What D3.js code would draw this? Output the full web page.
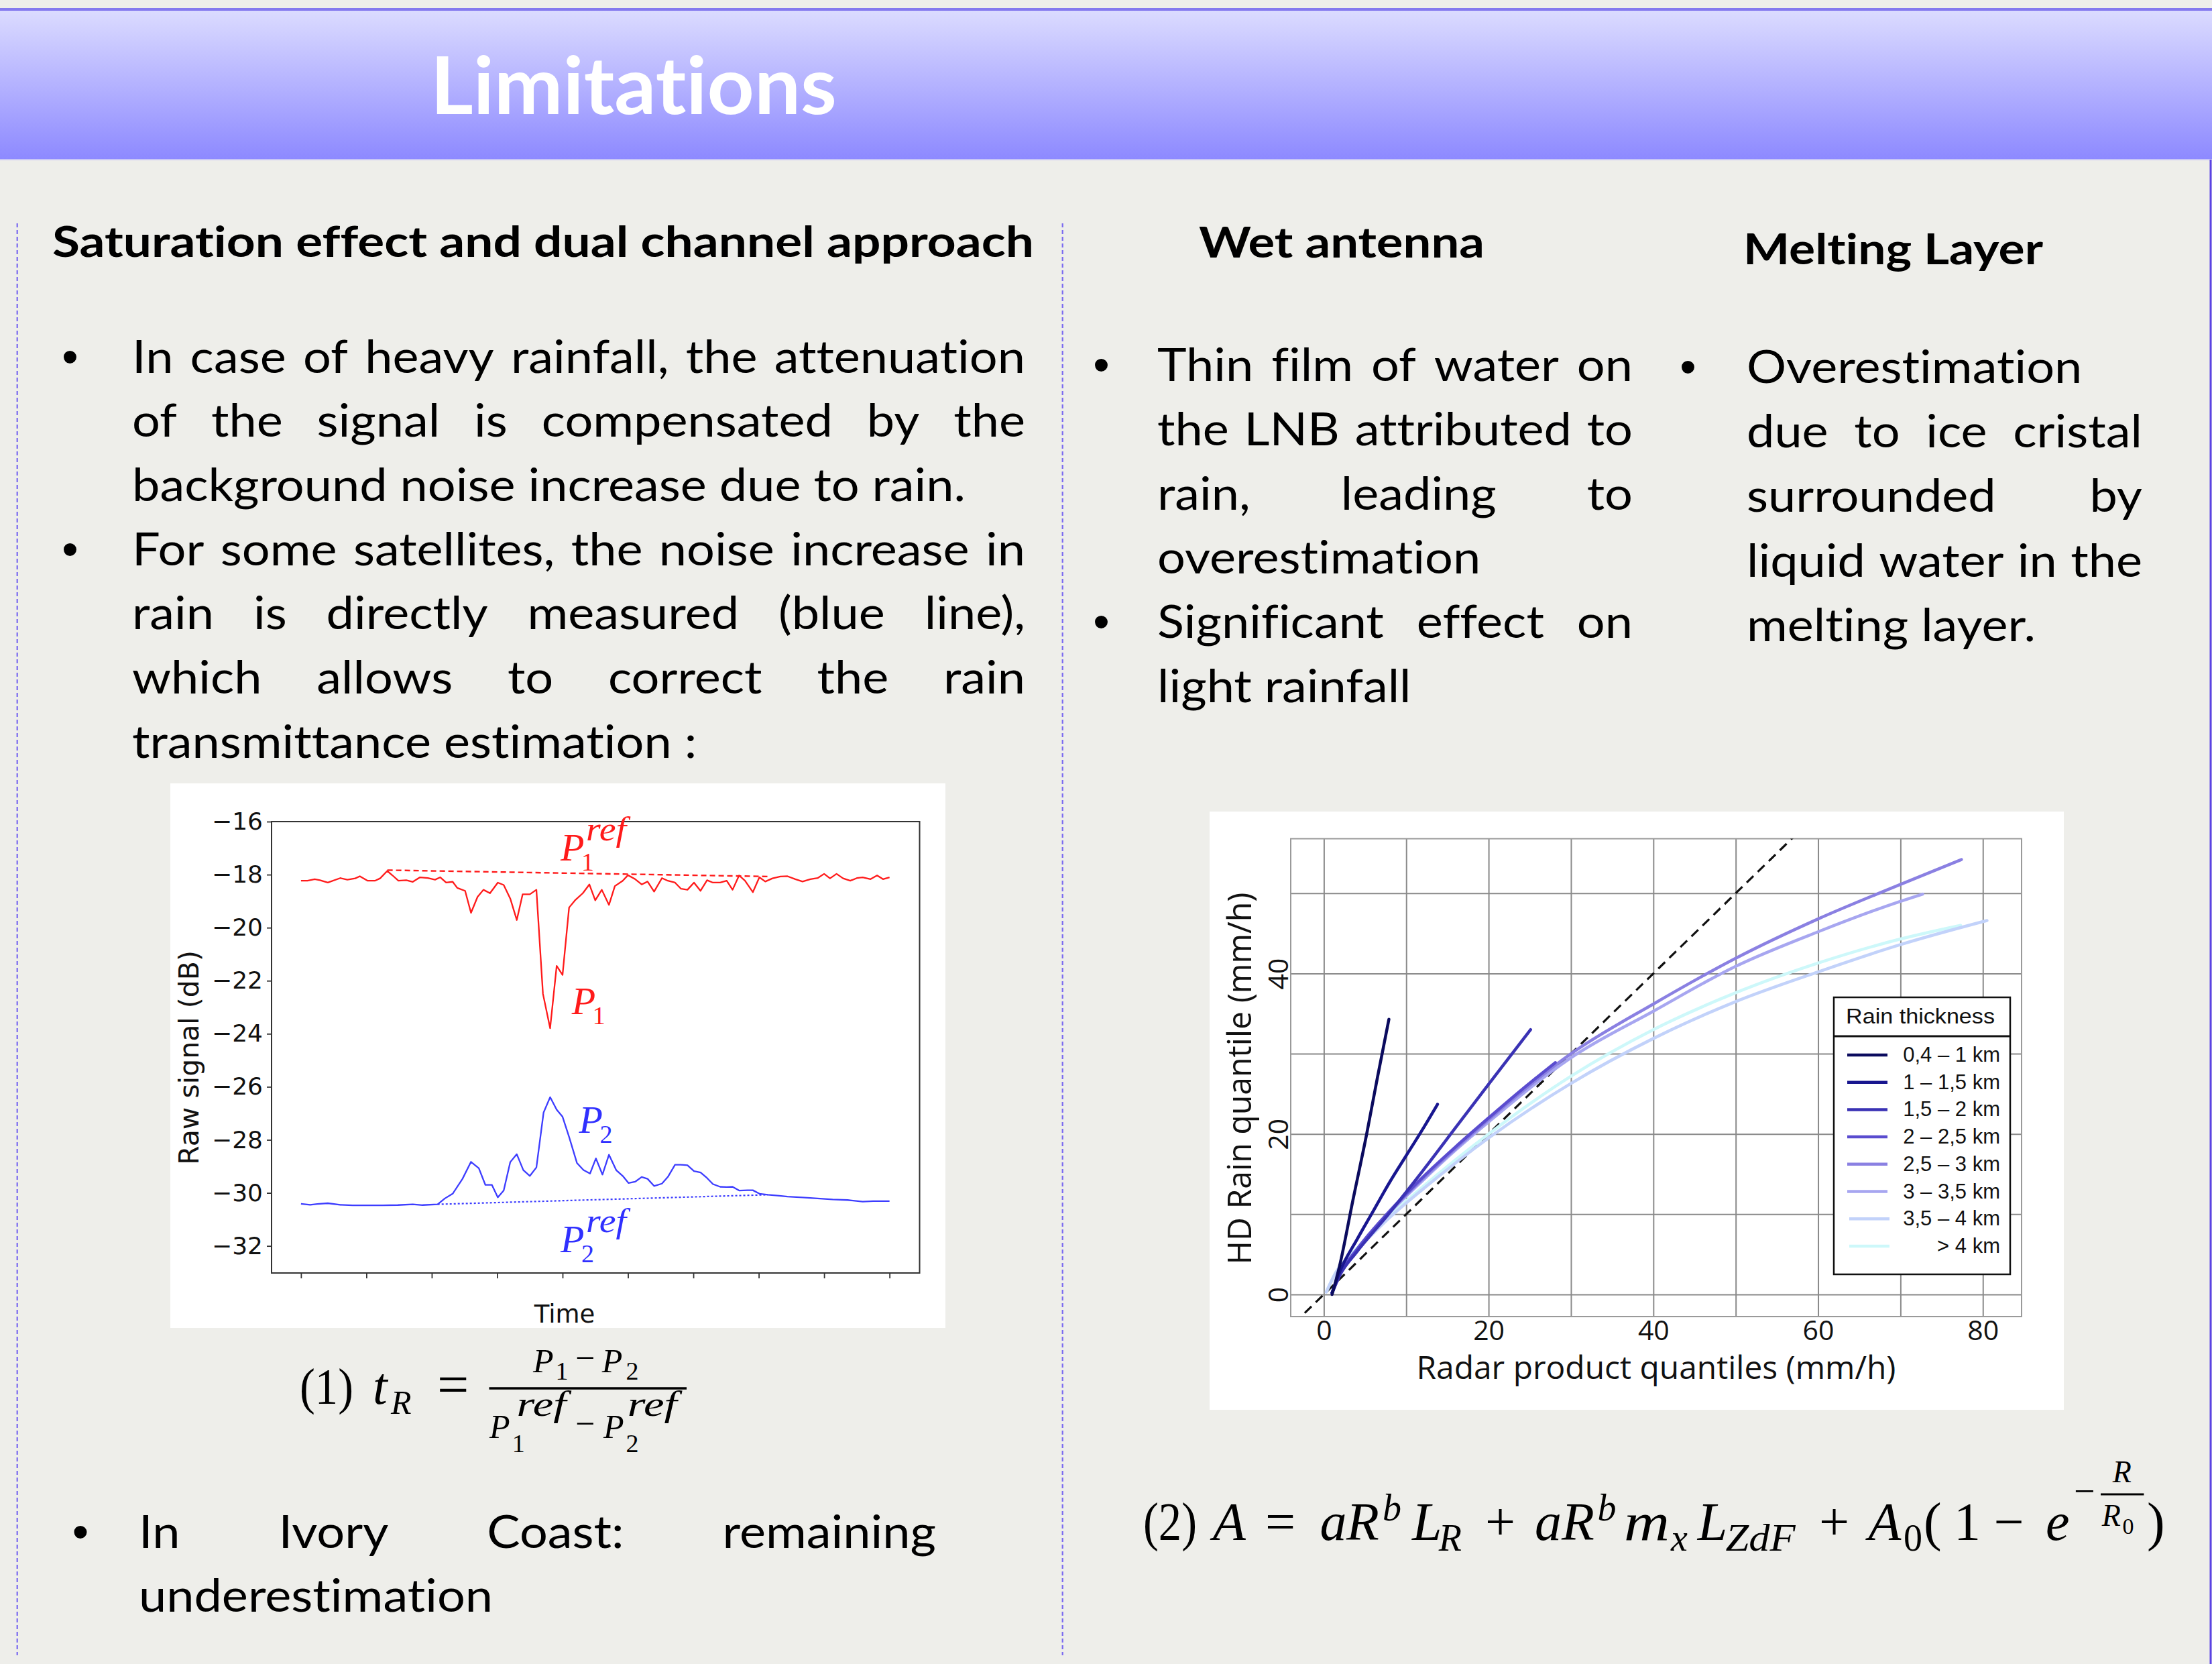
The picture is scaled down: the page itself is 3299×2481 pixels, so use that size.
<!DOCTYPE html>
<html>
<head>
<meta charset="utf-8">
<script src="https://d3js.org/d3.v7.min.js"></script>
<style>
  html, body { margin: 0; padding: 0; background: #eeeeea; }
  svg { display: block; }
  text { font-variant-ligatures: none; }
</style>
</head>
<body>
<svg id="slide" width="3299" height="2481"></svg>
<script>
// ---------- left chart : raw signal of the two channels ----------
const timeP1 = [0,0.1,0.21,0.29,0.41,0.6,0.71,0.83,0.9,1.02,1.13,1.21,1.32,1.4,1.49,1.61,1.71,1.82,1.94,2.05,2.13,2.22,2.32,2.39,2.51,2.6,2.7,2.79,2.89,3.01,3.1,3.2,3.3,3.39,3.5,3.6,3.7,3.81,3.91,4,4.1,4.19,4.31,4.41,4.5,4.6,4.71,4.8,4.92,5,5.11,5.21,5.3,5.4,5.52,5.61,5.72,5.81,5.91,6.01,6.11,6.21,6.3,6.41,6.51,6.6,6.7,6.79,6.91,7.01,7.1,7.21,7.33,7.44,7.56,7.67,7.79,7.9,8,8.09,8.19,8.29,8.4,8.5,8.59,8.71,8.81,8.9,9];
const p1 = [-18.23,-18.23,-18.17,-18.21,-18.30,-18.13,-18.19,-18.14,-18.06,-18.23,-18.23,-18.14,-17.86,-18.03,-18.23,-18.21,-18.27,-18.10,-18.13,-18.19,-18.10,-18.30,-18.27,-18.50,-18.61,-19.44,-18.84,-18.57,-18.70,-18.30,-18.39,-18.90,-19.71,-18.74,-18.74,-18.57,-22.49,-23.79,-21.44,-21.78,-19.24,-18.97,-18.70,-18.37,-18.97,-18.57,-19.14,-18.43,-18.23,-18.02,-18.17,-18.37,-18.26,-18.64,-18.13,-18.23,-18.30,-18.53,-18.57,-18.30,-18.61,-18.21,-18.30,-18.30,-18.23,-18.57,-18.03,-18.23,-18.66,-18.10,-18.26,-18.14,-18.07,-18.06,-18.17,-18.26,-18.17,-18.13,-17.97,-18.14,-17.97,-18.14,-18.23,-18.13,-18.10,-18.17,-18.03,-18.17,-18.10];
const timeP2 = [0,0.14,0.25,0.41,0.6,0.79,1.02,1.25,1.48,1.71,1.86,2.09,2.2,2.32,2.47,2.6,2.72,2.82,2.92,3.01,3.1,3.2,3.3,3.4,3.5,3.6,3.71,3.81,3.91,4,4.1,4.22,4.32,4.42,4.51,4.61,4.71,4.82,4.92,5.01,5.11,5.21,5.3,5.4,5.52,5.61,5.72,5.81,5.91,6.01,6.11,6.21,6.3,6.41,6.51,6.6,6.7,6.83,6.91,7.01,7.14,7.29,7.44,7.67,7.9,8.13,8.36,8.59,8.75,9];
const p2 = [-30.41,-30.45,-30.42,-30.39,-30.45,-30.47,-30.47,-30.47,-30.46,-30.43,-30.46,-30.43,-30.21,-30.03,-29.47,-28.83,-29.07,-29.70,-29.70,-30.17,-29.91,-28.84,-28.54,-29.14,-29.36,-29.04,-26.97,-26.39,-26.86,-27.13,-27.89,-28.87,-29.14,-29.27,-28.70,-29.31,-28.56,-29.14,-29.36,-29.63,-29.58,-29.40,-29.47,-29.74,-29.65,-29.40,-28.94,-28.94,-28.96,-29.18,-29.23,-29.44,-29.67,-29.77,-29.78,-29.77,-29.91,-29.90,-29.90,-30.03,-30.07,-30.10,-30.14,-30.17,-30.21,-30.25,-30.27,-30.33,-30.31,-30.31];
const p1RefTime = [1.32, 7.14], p1Ref = [-17.83, -18.07];
const p2RefTime = [2.09, 7.14], p2Ref = [-30.43, -30.07];
const signalTicks = [-32, -30, -28, -26, -24, -22, -20, -18, -16];
const timeTicks = [0, 1, 2, 3, 4, 5, 6, 7, 8, 9];

// ---------- right chart : HD rain quantiles vs radar quantiles ----------
const thickness = ["0,4 – 1 km", "1 – 1,5 km", "1,5 – 2 km", "2 – 2,5 km", "2,5 – 3 km", "3 – 3,5 km", "3,5 – 4 km", "> 4 km"];
const radarQ = [
  [1.0, 1.9, 3.5, 5.2, 6.5, 7.9],
  [1.0, 2, 4, 6, 8, 10, 12, 13.8],
  [1.0, 2, 4, 8, 12, 16, 20, 25.1],
  [1.0, 2, 4, 8, 12, 16, 20, 24, 28.1],
  [1.0, 2, 4, 8, 12, 16, 20, 30, 40, 50, 60, 70, 77.4],
  [1.0, 2, 4, 8, 12, 16, 20, 30, 40, 50, 60, 70, 72.7],
  [0.3, 1.5, 3, 5, 8, 12, 20, 30, 40, 50, 60, 70, 80.5],
  [0.3, 1.5, 3, 5, 8, 12, 20, 30, 40, 50, 60, 70, 77.3]
];
const hdQ = [
  [0.0, 3.5, 11.6, 20, 27, 34.3],
  [0.2, 3.0, 6.8, 10.4, 14.0, 17.3, 20.6, 23.7],
  [0.2, 2.5, 5.3, 10.2, 15.4, 20.8, 26.2, 33.0],
  [0.2, 2.6, 5.6, 10.4, 14.6, 18.4, 22.0, 25.5, 28.9],
  [0.2, 2.6, 5.5, 10.3, 14.4, 18.2, 21.8, 30.0, 36.2, 41.9, 46.8, 51.1, 54.2],
  [0.2, 2.6, 5.5, 10.2, 14.2, 18.0, 21.5, 29.5, 35.3, 40.9, 45.2, 49.0, 49.9],
  [0.3, 2.8, 4.6, 6.6, 9.6, 13.1, 19.5, 26.3, 31.9, 36.5, 40.2, 43.6, 46.6],
  [0.3, 2.8, 4.7, 6.7, 9.8, 13.4, 20.0, 27.2, 33.0, 37.6, 41.3, 44.3, 46.0]
];
const oneToOne = [-5, 60];
const radarTicks = [0, 10, 20, 30, 40, 50, 60, 70, 80];
const hdTicks = [0, 10, 20, 30, 40, 50];

const bandColors = ["#0b0b5e", "#18168f", "#3a32b4", "#5a4ccf", "#8a80e2", "#a7a6f0", "#c2d2fa", "#cdf8fa"];

// ---------- slide text ----------
const leftLines = [
  {t: "In case of heavy rainfall, the attenuation", j: true, b: true},
  {t: "of the signal is compensated by the", j: true},
  {t: "background noise increase due to rain.", j: false},
  {t: "For some satellites, the noise increase in", j: true, b: true},
  {t: "rain is directly measured (blue line),", j: true},
  {t: "which allows to correct the rain", j: true},
  {t: "transmittance estimation :", j: false}
];
const midLines = [
  {t: "Thin film of water on", j: true, b: true},
  {t: "the LNB attributed to", j: true},
  {t: "rain, leading to", j: true},
  {t: "overestimation", j: false},
  {t: "Significant effect on", j: true, b: true},
  {t: "light rainfall", j: false}
];
const rightLines = [
  {t: "Overestimation", j: false, b: true},
  {t: "due to ice cristal", j: true},
  {t: "surrounded by", j: true},
  {t: "liquid water in the", j: true},
  {t: "melting layer.", j: false}
];
const bottomLines = [
  {t: "In Ivory Coast: remaining", j: true, b: true},
  {t: "underestimation", j: false}
];

const W = 3299, H = 2481;
const bodyFont = "Lato, 'Open Sans', sans-serif";
const bodySize = 68;
const mathFont = "'Liberation Serif', 'DejaVu Serif', serif";

const svg = d3.select("#slide");
const defs = svg.append("defs");
const grad = defs.append("linearGradient").attr("id", "hdr")
  .attr("x1", 0).attr("y1", 0).attr("x2", 0).attr("y2", 1);
grad.append("stop").attr("offset", "0%").attr("stop-color", "#dcdcff");
grad.append("stop").attr("offset", "100%").attr("stop-color", "#8d89ff");

svg.append("rect").attr("width", W).attr("height", H).attr("fill", "#eeeeea");

// header band
svg.append("rect").attr("x", 0).attr("y", 13).attr("width", W).attr("height", 225).attr("fill", "url(#hdr)");
svg.append("line").attr("x1", 0).attr("x2", W).attr("y1", 14).attr("y2", 14)
  .attr("stroke", "#8479ee").attr("stroke-width", 4);
svg.append("line").attr("x1", 0).attr("x2", W).attr("y1", 238).attr("y2", 238)
  .attr("stroke", "#c9c7f6").attr("stroke-width", 2);
svg.append("text").attr("x", 642).attr("y", 170)
  .attr("font-family", bodyFont).attr("font-weight", 700).attr("font-size", 118)
  .attr("fill", "#ffffff").attr("textLength", 606).attr("lengthAdjust", "spacingAndGlyphs")
  .text("Limitations");

// right border and column dividers
svg.append("line").attr("x1", 3297).attr("x2", 3297).attr("y1", 238).attr("y2", H)
  .attr("stroke", "#5b42e4").attr("stroke-width", 3);
[25.7, 1584.7].forEach(x => {
  svg.append("line").attr("x1", x).attr("x2", x).attr("y1", 333).attr("y2", 2468)
    .attr("stroke", "#7a6af0").attr("stroke-width", 2.2).attr("stroke-dasharray", "6,4");
});

// headings
function heading(x, y, w, s) {
  svg.append("text").attr("x", x).attr("y", y)
    .attr("font-family", bodyFont).attr("font-weight", 700).attr("font-size", 64)
    .attr("fill", "#000").attr("textLength", w).attr("lengthAdjust", "spacingAndGlyphs").text(s);
}
heading(78, 383, 1464, "Saturation effect and dual channel approach");
heading(1788, 384, 426, "Wet antenna");
heading(2600, 394, 447, "Melting Layer");

// horizontal squeeze so that Lato reaches the widths of the original lines
const refs = [["background noise increase due to rain.", 1246.5], ["transmittance estimation :", 849],
  ["overestimation", 484], ["light rainfall", 375], ["Overestimation", 494],
  ["melting layer.", 428], ["underestimation", 530]];
let natural = 0, target = 0;
refs.forEach(r => {
  const p = svg.append("text").attr("font-family", bodyFont).attr("font-size", bodySize).text(r[0]);
  natural += p.node().getComputedTextLength();
  target += r[1];
  p.remove();
});
const squeeze = target / natural;

function block(lines, x0, x1, y0, lh, bulletX) {
  lines.forEach((ln, i) => {
    const y = y0 + i * lh;
    if (ln.b) {
      svg.append("text").attr("x", bulletX).attr("y", y).attr("text-anchor", "middle")
        .attr("font-family", "'Liberation Sans', Arial, sans-serif").attr("font-size", 70)
        .attr("fill", "#000").text("•");
    }
    const g = svg.append("g").attr("transform", `translate(${x0},${y}) scale(${squeeze},1)`);
    const t = g.append("text").attr("font-family", bodyFont).attr("font-size", bodySize).attr("fill", "#000");
    const words = ln.t.split(" ");
    if (!ln.j || words.length < 2) { t.text(ln.t); return; }
    const spans = words.map(w => t.append("tspan").text(w));
    const widths = spans.map(s => s.node().getComputedTextLength());
    const avail = (x1 - x0) / squeeze;
    const gap = (avail - d3.sum(widths)) / (words.length - 1);
    let cx = 0;
    spans.forEach((s, k) => {
      s.attr("x", cx);
      if (k < words.length - 1) s.text(words[k] + " ");
      cx += widths[k] + gap;
    });
  });
}
block(leftLines, 197, 1529, 555.5, 95.7, 104.6);
block(midLines, 1726, 2435, 568, 95.8, 1642.5);
block(rightLines, 2605, 3195, 570.6, 96.3, 2517.5);
block(bottomLines, 207, 1396, 2308, 95, 120);

// ======== left chart ========
svg.append("rect").attr("x", 254).attr("y", 1168).attr("width", 1156).attr("height", 812).attr("fill", "#ffffff");
const lx = d3.scaleLinear().domain([-0.45, 9.46]).range([405, 1371.5]);
const ly = d3.scaleLinear().domain([-33.02, -16]).range([1898, 1225]);

const yAxL = svg.append("g").attr("transform", "translate(405,0)")
  .call(d3.axisLeft(ly).tickValues(signalTicks).tickSize(7).tickPadding(6));
const xAxL = svg.append("g").attr("transform", "translate(0,1898)")
  .call(d3.axisBottom(lx).tickValues(timeTicks).tickFormat("").tickSize(8));
[yAxL, xAxL].forEach(a => {
  a.select(".domain").remove();
  a.selectAll(".tick line").attr("stroke", "#333").attr("stroke-width", 1.8);
  a.selectAll(".tick text").attr("font-family", "'DejaVu Sans', sans-serif").attr("font-size", 36).attr("fill", "#111");
});
svg.append("rect").attr("x", 405).attr("y", 1225).attr("width", 966.5).attr("height", 673)
  .attr("fill", "none").attr("stroke", "#333").attr("stroke-width", 2);

const lineL = d3.line().x(d => lx(d[0])).y(d => ly(d[1]));
svg.append("path").datum(d3.zip(p1RefTime, p1Ref)).attr("d", lineL)
  .attr("fill", "none").attr("stroke", "#ff1a1a").attr("stroke-width", 2.4).attr("stroke-dasharray", "8,5");
svg.append("path").datum(d3.zip(p2RefTime, p2Ref)).attr("d", lineL)
  .attr("fill", "none").attr("stroke", "#3d3dff").attr("stroke-width", 2.2).attr("stroke-dasharray", "3,3");
svg.append("path").datum(d3.zip(timeP1, p1)).attr("d", lineL)
  .attr("fill", "none").attr("stroke", "#ff1a1a").attr("stroke-width", 2.3).attr("stroke-linejoin", "round");
svg.append("path").datum(d3.zip(timeP2, p2)).attr("d", lineL)
  .attr("fill", "none").attr("stroke", "#3d3dff").attr("stroke-width", 2.3).attr("stroke-linejoin", "round");

svg.append("text").attr("transform", "translate(282,1577) rotate(-90)")
  .attr("text-anchor", "middle").attr("dominant-baseline", "central")
  .attr("font-family", "'DejaVu Sans', sans-serif").attr("font-size", 41).attr("fill", "#111")
  .text("Raw signal (dB)");
svg.append("text").attr("x", 842).attr("y", 1972).attr("text-anchor", "middle")
  .attr("font-family", "'DejaVu Sans', sans-serif").attr("font-size", 37).attr("fill", "#111").text("Time");

function mathGlyph(x, y, s, size, italic, color, len) {
  const t = svg.append("text").attr("x", x).attr("y", y)
    .attr("font-family", mathFont).attr("font-size", size)
    .attr("font-style", italic ? "italic" : "normal").attr("fill", color || "#000").text(s);
  if (len) t.attr("textLength", len).attr("lengthAdjust", "spacingAndGlyphs");
  return t;
}
// channel labels (x in time units, y in dB)
const pLabels = [
  {x: 3.97, y: -17.47, sub: "1", ref: true, c: "#ff1a1a"},
  {x: 4.14, y: -23.26, sub: "1", ref: false, c: "#ff1a1a"},
  {x: 4.25, y: -27.73, sub: "2", ref: false, c: "#3030ff"},
  {x: 3.97, y: -32.24, sub: "2", ref: true, c: "#3030ff"}
];
pLabels.forEach(l => {
  const px = lx(l.x), py = ly(l.y);
  mathGlyph(px, py, "P", 58, true, l.c);
  mathGlyph(px + 31, py + 15, l.sub, 38, false, l.c);
  if (l.ref) mathGlyph(px + 38, py - 30, "ref", 50, true, l.c, 60);
});

// equation (1)
mathGlyph(447, 2093, "(1)", 76, false, null, 80);
mathGlyph(556, 2093, "t", 78, true);
mathGlyph(583, 2108, "R", 50, true);
mathGlyph(652, 2093, "=", 84, false);
svg.append("line").attr("x1", 729.5).attr("x2", 1024).attr("y1", 2070).attr("y2", 2070)
  .attr("stroke", "#000").attr("stroke-width", 3.5);
mathGlyph(795, 2046, "P", 50, true);
mathGlyph(828.6, 2057, "1", 38, false);
mathGlyph(858, 2042, "−", 52, false);
mathGlyph(897.8, 2046, "P", 50, true);
mathGlyph(933.5, 2057, "2", 38, false);
mathGlyph(730, 2144, "P", 50, true);
mathGlyph(770.5, 2111, "ref", 52, true, null, 74);
mathGlyph(763.8, 2165, "1", 38, false);
mathGlyph(858, 2140, "−", 52, false);
mathGlyph(900, 2144, "P", 50, true);
mathGlyph(935.7, 2111, "ref", 52, true, null, 74);
mathGlyph(933.5, 2165, "2", 38, false);

// ======== right chart ========
svg.append("rect").attr("x", 1804).attr("y", 1210).attr("width", 1274).attr("height", 892).attr("fill", "#ffffff");
const rx = d3.scaleLinear().domain([-4.02, 84.7]).range([1925, 3015]);
const ry = d3.scaleLinear().domain([-2.76, 56.8]).range([1963, 1250.5]);
const chartFont = "'Open Sans', 'Noto Sans', sans-serif";

const xAxR = svg.append("g").attr("transform", "translate(0,1963)")
  .call(d3.axisBottom(rx).tickValues(radarTicks).tickSize(-(1963 - 1250.5)).tickPadding(6)
    .tickFormat(d => d % 20 === 0 ? d : ""));
const yAxR = svg.append("g").attr("transform", "translate(1925,0)")
  .call(d3.axisLeft(ry).tickValues(hdTicks).tickSize(-(3015 - 1925))
    .tickFormat(d => d % 20 === 0 ? d : ""));
[xAxR, yAxR].forEach(a => {
  a.select(".domain").remove();
  a.selectAll(".tick line").attr("stroke", "#8a8a8a").attr("stroke-width", 2);
  a.selectAll(".tick text").attr("font-family", chartFont).attr("font-size", 41).attr("fill", "#111");
});
yAxR.selectAll(".tick text").attr("x", null).attr("dy", null)
  .attr("transform", "translate(-4,0) rotate(-90)").attr("text-anchor", "middle");
svg.append("rect").attr("x", 1925).attr("y", 1250.5).attr("width", 1090).attr("height", 712.5)
  .attr("fill", "none").attr("stroke", "#9a9a9a").attr("stroke-width", 2);

defs.append("clipPath").attr("id", "plotR").append("rect")
  .attr("x", 1925).attr("y", 1250.5).attr("width", 1090).attr("height", 712.5);
const plotR = svg.append("g").attr("clip-path", "url(#plotR)");
plotR.append("path").datum(oneToOne.map(v => [v, v]))
  .attr("d", d3.line().x(d => rx(d[0])).y(d => ry(d[1])))
  .attr("fill", "none").attr("stroke", "#111").attr("stroke-width", 3.2).attr("stroke-dasharray", "14,9");
const lineR = d3.line().curve(d3.curveMonotoneX).x(d => rx(d[0])).y(d => ry(d[1]));
for (let i = radarQ.length - 1; i >= 0; i--) {
  plotR.append("path").datum(d3.zip(radarQ[i], hdQ[i])).attr("d", lineR)
    .attr("fill", "none").attr("stroke", bandColors[i]).attr("stroke-width", 4.5).attr("stroke-linecap", "round");
}

svg.append("text").attr("x", 2470).attr("y", 2056).attr("text-anchor", "middle")
  .attr("font-family", chartFont).attr("font-size", 47).attr("fill", "#111")
  .attr("textLength", 715).attr("lengthAdjust", "spacingAndGlyphs")
  .text("Radar product quantiles (mm/h)");
svg.append("text").attr("transform", "translate(1866,1608) rotate(-90)").attr("text-anchor", "middle")
  .attr("font-family", chartFont).attr("font-size", 50).attr("fill", "#111")
  .attr("textLength", 555).attr("lengthAdjust", "spacingAndGlyphs")
  .text("HD Rain quantile  (mm/h)");

// legend
const legFont = "'Liberation Sans', Arial, sans-serif";
svg.append("rect").attr("x", 2735).attr("y", 1487).attr("width", 263).attr("height", 413)
  .attr("fill", "#ffffff").attr("stroke", "#111").attr("stroke-width", 2.5);
svg.append("line").attr("x1", 2735).attr("x2", 2998).attr("y1", 1545).attr("y2", 1545)
  .attr("stroke", "#111").attr("stroke-width", 3);
svg.append("text").attr("x", 2864).attr("y", 1526).attr("text-anchor", "middle")
  .attr("font-family", legFont).attr("font-size", 31).attr("fill", "#111")
  .attr("textLength", 222).attr("lengthAdjust", "spacingAndGlyphs").text("Rain thickness");
thickness.forEach((name, i) => {
  const y = 1573 + i * 40.7;
  const off = i >= 6 ? 3 : 0;
  svg.append("line").attr("x1", 2755 + off).attr("x2", 2815 + off).attr("y1", y).attr("y2", y)
    .attr("stroke", bandColors[i]).attr("stroke-width", 4.5);
  svg.append("text").attr("x", 2983).attr("y", y + 10).attr("text-anchor", "end")
    .attr("font-family", legFont).attr("font-size", 31).attr("fill", "#111").text(name);
});

// equation (2)
const M = 80, S = 56;
mathGlyph(1705, 2296, "(2)", M, false, null, 80);
mathGlyph(1809, 2296, "A", M, true);
mathGlyph(1887, 2296, "=", M, false);
mathGlyph(1968.6, 2296, "a", M, true);
mathGlyph(2008, 2296, "R", M, true);
mathGlyph(2062, 2266.7, "b", S, true);
mathGlyph(2106, 2296, "L", M, true);
mathGlyph(2145.7, 2311.7, "R", S, true);
mathGlyph(2215, 2296, "+", M, false);
mathGlyph(2289, 2296, "a", M, true);
mathGlyph(2329, 2296, "R", M, true);
mathGlyph(2382.5, 2266.7, "b", S, true);
mathGlyph(2422, 2296, "m", M, true, null, 68);
mathGlyph(2492, 2311.7, "x", S, true);
mathGlyph(2531.7, 2296, "L", M, true);
mathGlyph(2573.5, 2311.7, "ZdF", S, true, null, 104);
mathGlyph(2713, 2296, "+", M, false);
mathGlyph(2786.5, 2296, "A", M, true);
mathGlyph(2839, 2311.7, "0", S, false);
mathGlyph(2869, 2296, "(", M, false);
mathGlyph(2914, 2296, "1", M, false);
mathGlyph(2973.5, 2296, "−", M, false);
mathGlyph(3051, 2296, "e", M, true);
mathGlyph(3093, 2241.5, "−", S, false);
svg.append("line").attr("x1", 3133).attr("x2", 3197.4).attr("y1", 2228).attr("y2", 2228)
  .attr("stroke", "#000").attr("stroke-width", 3);
mathGlyph(3150.7, 2210, "R", 46, true);
mathGlyph(3134.7, 2275, "R", 46, true);
mathGlyph(3165.6, 2287, "0", 34, false);
mathGlyph(3202, 2296, ")", M, false);
</script>
</body>
</html>
